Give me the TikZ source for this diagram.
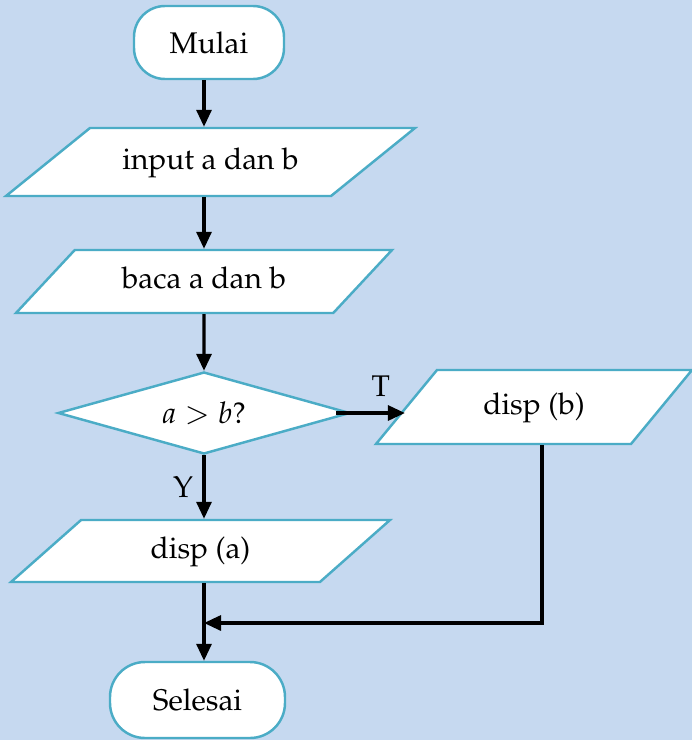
\documentclass[tikz,border=0pt]{standalone}
\usepackage[T1]{fontenc}
\usepackage{mathpazo}
\usetikzlibrary{shapes.geometric,arrows.meta}

\definecolor{bgblue}{RGB}{198,217,240}
\definecolor{rim}{RGB}{75,172,198}

\tikzset{
	box/.style={draw=rim, fill=white, line width=1.4pt, inner sep=0pt},
	terminal/.style={box, rectangle, rounded corners=0.62cm},
	% slant comes from the text box height, so fix it with inner ysep
	io/.style 2 args={box, trapezium, trapezium stretches body=true,
		trapezium left angle=#1, trapezium right angle=#2,
		text height=0.4cm, text depth=0.12cm},
	decision/.style={box, diamond, aspect=3.56, minimum width=5.84cm, minimum height=1.64cm},
	flow/.style={line width=1.8pt, -{Triangle[length=0.34cm, width=0.3cm]}}
}

\begin{document}
\begin{tikzpicture}[font=\fontsize{17}{20}\selectfont]
	%page and background
	\useasboundingbox (0,0) rectangle (13.84,-14.8);
	\fill[bgblue] (0,0) rectangle (13.84,-14.8);
	
	%the blocks
	\node[terminal, minimum width=3cm, minimum height=1.46cm] (mulai) at (4.18,-0.85) {Mulai};
	\node[io={39}{141}, minimum width=8.18cm, inner ysep=0.42cm] (input) at (4.21,-3.24) {input a dan b};
	\node[io={47}{133}, minimum width=7.52cm, inner ysep=0.37cm] (baca) at (4.08,-5.63) {baca a dan b};
	\node[decision] (dec) at (4.08,-8.26) {$a > b$?};
	\node[io={50.5}{129.5}, minimum width=6.32cm, inner ysep=0.48cm] (dispb) at (10.68,-8.14) {disp (b)};
	\node[io={41.5}{138.5}, minimum width=7.58cm, inner ysep=0.36cm] (dispa) at (4.01,-11.02) {disp (a)};
	\node[terminal, minimum width=3.5cm, minimum height=1.52cm, rounded corners=0.7cm] (selesai) at (3.95,-14.0) {Selesai};
	\coordinate (join) at (4.08,-12.46);
	
	%main line
	\draw[flow] (mulai.south -| dec) -- (input.north -| dec);
	\draw[flow] (input.south -| dec) -- (baca.north -| dec);
	\draw[flow] (baca.south) -- (dec.north);
	\draw[flow] (dec.south) -- (dispa.north -| dec) node[midway, left=2pt] {Y};
	\draw[flow] (dispa.south -| dec) -- (selesai.north -| dec);
	
	%branch to the right and back
	\draw[flow] ([xshift=-0.3cm]dec.east) -- (dec.east -| dispb.west) node[pos=0.65, above=5pt] {T};
	\draw[flow] ([xshift=0.16cm]dispb.south) |- (join);
\end{tikzpicture}
\end{document}
